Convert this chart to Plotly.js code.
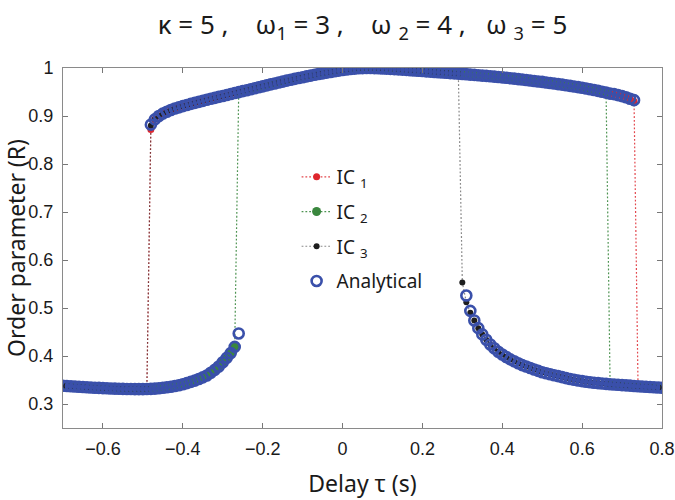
<!DOCTYPE html>
<html>
<head>
<meta charset="utf-8">
<script src="https://cdn.plot.ly/plotly-3.0.1.min.js"></script>
<style>html,body{margin:0;padding:0;background:#fff;}#chart{width:675px;height:500px;}</style>
</head>
<body>
<div id="chart"></div>
<script>
// ---- Analytical solution: lower-left branch (last point = fold) ----
const tauLow = [-0.70,-0.69,-0.68,-0.67,-0.66,-0.65,-0.64,-0.63,-0.62,-0.61,-0.60,-0.59,-0.58,-0.57,-0.56,-0.55,-0.54,-0.53,-0.52,-0.51,-0.50,-0.49,-0.48,-0.47,-0.46,-0.45,-0.44,-0.43,-0.42,-0.41,-0.40,-0.39,-0.38,-0.37,-0.36,-0.35,-0.34,-0.33,-0.32,-0.31,-0.30,-0.29,-0.28,-0.27,-0.26];
const RLow = [0.338,0.3375,0.337,0.3365,0.336,0.3355,0.335,0.3345,0.334,0.3335,0.333,0.3327,0.3323,0.332,0.3317,0.3315,0.3313,0.3311,0.331,0.331,0.331,0.3312,0.3315,0.332,0.3328,0.3337,0.3348,0.336,0.3375,0.3392,0.3412,0.3435,0.346,0.3488,0.352,0.3555,0.3595,0.365,0.371,0.378,0.387,0.396,0.406,0.419,0.447];

// ---- Analytical solution: upper branch ----
const tauUp = [-0.48,-0.47,-0.46,-0.45,-0.44,-0.43,-0.42,-0.41,-0.40,-0.39,-0.38,-0.37,-0.36,-0.35,-0.34,-0.33,-0.32,-0.31,-0.30,-0.29,-0.28,-0.27,-0.26,-0.25,-0.24,-0.23,-0.22,-0.21,-0.20,-0.19,-0.18,-0.17,-0.16,-0.15,-0.14,-0.13,-0.12,-0.11,-0.10,-0.09,-0.08,-0.07,-0.06,-0.05,-0.04,-0.03,-0.02,-0.01,0.00,0.01,0.02,0.03,0.04,0.05,0.06,0.07,0.08,0.09,0.10,0.11,0.12,0.13,0.14,0.15,0.16,0.17,0.18,0.19,0.20,0.21,0.22,0.23,0.24,0.25,0.26,0.27,0.28,0.29,0.30,0.31,0.32,0.33,0.34,0.35,0.36,0.37,0.38,0.39,0.40,0.41,0.42,0.43,0.44,0.45,0.46,0.47,0.48,0.49,0.50,0.51,0.52,0.53,0.54,0.55,0.56,0.57,0.58,0.59,0.60,0.61,0.62,0.63,0.64,0.65,0.66,0.67,0.68,0.69,0.70,0.71,0.72,0.73];
const RUp = [0.882,0.893,0.900,0.905,0.909,0.9125,0.9155,0.918,0.9205,0.923,0.9252,0.9274,0.9295,0.9316,0.9337,0.9358,0.9378,0.9398,0.9418,0.9438,0.9458,0.9478,0.9498,0.9518,0.9538,0.9558,0.9578,0.9598,0.9618,0.9638,0.9658,0.9678,0.9698,0.9717,0.9736,0.9755,0.9773,0.9791,0.9808,0.9825,0.9842,0.9858,0.9874,0.9889,0.9904,0.9918,0.9932,0.9945,0.9957,0.9968,0.9978,0.9987,0.9994,0.9998,1.0,1.0,0.9998,0.9995,0.9991,0.9987,0.9982,0.9977,0.9972,0.9966,0.996,0.9954,0.9948,0.9942,0.9936,0.993,0.9924,0.9918,0.9912,0.9906,0.99,0.9894,0.9888,0.9882,0.9876,0.987,0.9863,0.9856,0.9849,0.9842,0.9835,0.9828,0.982,0.9812,0.9804,0.9796,0.9787,0.9778,0.9769,0.976,0.975,0.974,0.973,0.972,0.971,0.9699,0.9688,0.9677,0.9665,0.9653,0.9641,0.9628,0.9615,0.9601,0.9587,0.9572,0.9557,0.9541,0.9524,0.9506,0.9487,0.9467,0.9455,0.9435,0.9415,0.939,0.936,0.933];

// ---- Analytical solution: lower-right branch ----
const tauRight = [0.31,0.32,0.33,0.34,0.35,0.36,0.37,0.38,0.39,0.40,0.41,0.42,0.43,0.44,0.45,0.46,0.47,0.48,0.49,0.50,0.51,0.52,0.53,0.54,0.55,0.56,0.57,0.58,0.59,0.60,0.61,0.62,0.63,0.64,0.65,0.66,0.67,0.68,0.69,0.70,0.71,0.72,0.73,0.74,0.75,0.76,0.77,0.78,0.79,0.80];
const RRight = [0.526,0.494,0.474,0.458,0.445,0.434,0.424,0.416,0.409,0.403,0.398,0.393,0.389,0.385,0.381,0.378,0.375,0.372,0.369,0.366,0.364,0.362,0.360,0.358,0.356,0.354,0.352,0.3505,0.349,0.3477,0.3465,0.3454,0.3444,0.3435,0.3427,0.342,0.3413,0.3406,0.34,0.3394,0.3388,0.3382,0.3376,0.337,0.3365,0.336,0.3355,0.335,0.3345,0.334];

// ---- Simulations (initial conditions IC1..IC3) ----
const icNames = ['IC <sub>1</sub>', 'IC <sub>2</sub>', 'IC <sub>3</sub>'];
const icUpStart = [-0.48, -0.26, -0.48];   // first delay on the upper branch
const icUpEnd   = [0.73, 0.66, 0.29];      // last delay on the upper branch
const icUpStartR = [0.872, 0.949, 0.880];  // simulated R at the jump up
const icUpEndR   = [0.930, 0.9487, 0.9882];// simulated R before the jump down
const ic3DropTau = [0.30, 0.31, 0.32];     // IC3 transient after dropping
const ic3DropR   = [0.553, 0.512, 0.490];

const icColors = ['rgb(222,38,45)', 'rgb(58,135,62)', 'rgb(30,30,30)'];
const icLineColors = ['rgba(222,38,45,0.85)', 'rgba(58,135,62,0.9)', 'rgba(40,40,40,0.55)'];
const icSizes = [7, 9, 6];
const anaColor = 'rgb(58,80,170)';

const eps = 0.005;
const traces = [];
for (let k = 0; k < 3; k++) {
  const x = [], y = [];
  tauLow.forEach((t, i) => { if (t < icUpStart[k] - eps && t < -0.265) { x.push(t); y.push(RLow[i]); } });
  tauUp.forEach((t, i) => {
    if (t > icUpStart[k] - eps && t < icUpEnd[k] + eps) {
      let r = RUp[i];
      if (Math.abs(t - icUpStart[k]) < eps) r = icUpStartR[k];
      if (Math.abs(t - icUpEnd[k]) < eps) r = icUpEndR[k];
      x.push(t); y.push(r);
    }
  });
  if (k === 2) {
    ic3DropTau.forEach((t, i) => { x.push(t); y.push(ic3DropR[i]); });
    tauRight.forEach((t, i) => { if (t > ic3DropTau[ic3DropTau.length - 1] + eps) { x.push(t); y.push(RRight[i]); } });
  } else {
    tauRight.forEach((t, i) => { if (t > icUpEnd[k] + eps) { x.push(t); y.push(RRight[i]); } });
  }
  traces.push({
    x: x, y: y, type: 'scatter', mode: 'lines+markers', name: icNames[k], legendgroup: 'g' + k,
    line: {color: icLineColors[k], width: 1.2, dash: '1.8px,2px'},
    marker: {color: icColors[k], size: icSizes[k], symbol: 'circle'}
  });
}

// analytical: three branches in one trace (gaps between them)
const ax = [].concat(tauLow, [null], tauUp, [null], tauRight);
const ay = [].concat(RLow, [null], RUp, [null], RRight);
traces.push({
  x: ax, y: ay, type: 'scatter', mode: 'markers', name: 'Analytical', legendgroup: 'g3',
  marker: {symbol: 'circle-open', size: 10, color: anaColor, line: {color: anaColor, width: 2.6}}
});

const tickFont = {family: 'Liberation Sans, Arial, sans-serif', size: 18, color: '#1a1a1a'};
const labFont = {family: 'Noto Sans, Open Sans, sans-serif', size: 23, color: '#1a1a1a'};

const layout = {
  width: 675, height: 500,
  margin: {l: 63, r: 13, t: 68, b: 72},
  paper_bgcolor: '#fff', plot_bgcolor: '#fff',
  showlegend: true,
  title: {
    text: 'κ = 5 ,&nbsp;&nbsp;&nbsp; ω<sub>1</sub> = 3 ,&nbsp;&nbsp;&nbsp; ω <sub>2</sub> = 4 ,&nbsp;&nbsp; ω <sub>3</sub> = 5',
    x: 0.5, xref: 'paper', xanchor: 'center',
    y: 0.95, yref: 'container', yanchor: 'middle',
    font: {family: 'Noto Sans, Open Sans, sans-serif', size: 26, color: '#1a1a1a'}
  },
  xaxis: {
    range: [-0.7, 0.8], tick0: 0, dtick: 0.2,
    ticks: 'inside', ticklen: 5, tickcolor: '#777', tickwidth: 1,
    showline: true, linecolor: '#8a8a8a', linewidth: 1, mirror: 'allticks',
    showgrid: false, zeroline: false,
    tickfont: tickFont, ticklabelstandoff: 4,
    title: {text: 'Delay&nbsp;τ&nbsp;(s)', font: labFont, standoff: 18}
  },
  yaxis: {
    range: [0.25, 1.0], tick0: 0, dtick: 0.1,
    ticks: 'inside', ticklen: 5, tickcolor: '#777', tickwidth: 1,
    showline: true, linecolor: '#8a8a8a', linewidth: 1, mirror: 'allticks',
    showgrid: false, zeroline: false,
    tickfont: tickFont, ticklabelstandoff: 5,
    title: {text: 'Order parameter (R)', font: labFont, standoff: 4}
  },
  legend: {
    x: 0.39, y: 0.75, xanchor: 'left', yanchor: 'top',
    bgcolor: 'rgba(0,0,0,0)', borderwidth: 0, traceorder: 'grouped',
    font: {family: 'Noto Sans, Open Sans, sans-serif', size: 19, color: '#1a1a1a'},
    tracegroupgap: 7
  }
};

Plotly.newPlot('chart', traces, layout, {staticPlot: true, displayModeBar: false});
</script>
</body>
</html>
